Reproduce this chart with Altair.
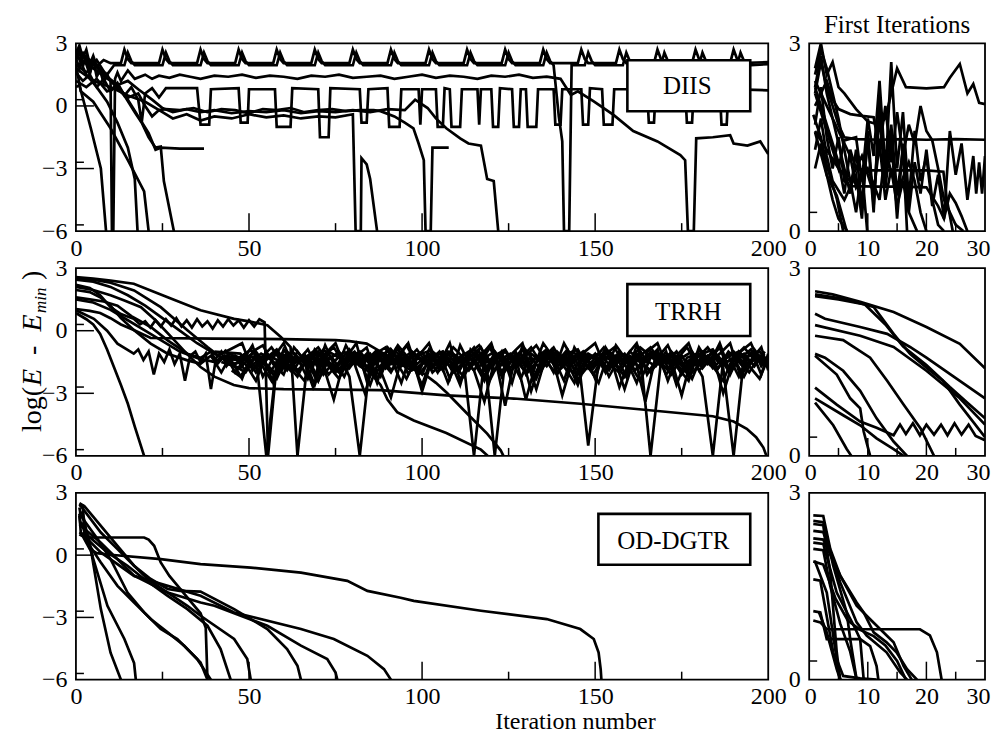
import altair as alt
import pandas as pd

FONT = "Liberation Serif"

# ---------------- axis values ----------------
LEFT_X_LABELS = [0, 50, 100, 150, 200]
LEFT_Y_LABELS = [3, 0, -3, -6]
RIGHT_X_LABELS = [0, 10, 20, 30]
RIGHT_Y_LABELS = [0, 3]
LEFT_X_MAJOR = [50, 100, 150]
LEFT_X_MINOR = [25, 75, 125, 175]
LEFT_Y_MAJOR = [0, -3]
LEFT_Y_MINOR = [0.3, -2.7, -5.7]
RIGHT_X_MAJOR = [10, 20]
RIGHT_X_MINOR = [5, 15, 25]
RIGHT_Y_MINOR = [0.3]

PANEL_LABELS = ["DIIS", "TRRH", "OD-DGTR"]
RIGHT_TITLE = "First Iterations"
X_TITLE = "Iteration number"
Y_TITLE_PARTS = ["log(", "E\u2002-\u2002E", "min", ")"]

# ---------------- DIIS, full run ----------------
DIIS_1 = [(0,2.5),(1,2.9),(2,2.3),(3,2.7),(4,2.0),(5,2.4),(6,1.9),(8,2.2),(10,2.05),
          (13,2.05),(14,2.7),(15,2.25),(16,2.05),(24,2.05),(25,2.7),(26,2.25),(27,2.05),
          (35,2.05),(36,2.7),(37,2.25),(38,2.05),(46,2.05),(47,2.7),(48,2.25),(49,2.05),
          (57,2.05),(58,2.7),(59,2.25),(60,2.05),(68,2.05),(69,2.7),(70,2.25),(71,2.05),
          (79,2.05),(80,2.7),(81,2.25),(82,2.05),(90,2.05),(91,2.7),(92,2.25),(93,2.05),
          (101,2.05),(102,2.7),(103,2.25),(104,2.05),(112,2.05),(113,2.7),(114,2.25),(115,2.05),
          (123,2.05),(124,2.7),(125,2.25),(126,2.05),(134,2.05),(135,2.7),(136,2.25),(137,2.05),
          (145,2.05),(146,2.7),(147,2.25),(148,2.05),(156,2.05),(157,2.7),(158,2.25),(159,2.05),
          (167,2.05),(168,2.7),(169,2.25),(170,2.05),(178,2.05),(179,2.7),(180,2.25),(181,2.05),
          (189,2.05),(190,2.7),(191,2.25),(192,2.05),(200,2.1)]
DIIS_2 = [(0,2.2),(1,2.6),(2,1.9),(3,2.4),(4,1.6),(5,2.1),(7,1.8),(9,1.5),(11,1.95),
          (14,1.95),(15,2.55),(16,2.15),(17,1.95),(25,1.95),(26,2.55),(27,2.15),(28,1.95),
          (36,1.95),(37,2.55),(38,2.15),(39,1.95),(47,1.95),(48,2.55),(49,2.15),(50,1.95),
          (58,1.95),(59,2.55),(60,2.15),(61,1.95),(69,1.95),(70,2.55),(71,2.15),(72,1.95),
          (80,1.95),(81,2.55),(82,2.15),(83,1.95),(91,1.95),(92,2.55),(93,2.15),(94,1.95),
          (102,1.95),(103,2.55),(104,2.15),(105,1.95),(113,1.95),(114,2.55),(115,2.15),(116,1.95),
          (124,1.95),(125,2.55),(126,2.15),(127,1.95),(135,1.95),(136,2.55),(137,2.15),(138,1.95),
          (139.5,-0.5),(140.5,-1.7),(141,-6),(142.5,-6),(143.2,1.95),
          (147,1.95),(148,2.55),(149,2.15),(150,1.95),(158,1.95),(159,2.55),(160,2.15),(161,1.95),
          (169,1.95),(170,2.55),(171,2.15),(172,1.95),(180,1.95),(181,2.55),(182,2.15),(183,1.95),
          (191,1.95),(192,2.55),(193,2.15),(194,1.95),(200,2.0)]
DIIS_3 = [(0,2.3),(1,1.8),(2,2.6),(3,2.0),(4,1.5),(5,2.2),(6,1.4),(7,1.7),(8,1.1),(9,1.5),(10,1.2),
          (10.4,-6),(10.8,-6),(11.3,1.3),(12,1.6),(13,1.2),(15,1.7),(17,1.3),(20,1.5),(22,1.3),
          (24,1.45),(27,1.35),(30,1.5),(33,1.4),(36,1.3),(40,1.45),(44,1.4),(48,1.5),(52,1.35),
          (56,1.45),(60,1.4),(64,1.3),(68,1.45),(72,1.4),(76,1.5),(80,1.35),(84,1.4),(88,1.45),
          (92,1.3),(96,1.4),(100,1.5),(104,1.35),(108,1.45),(112,1.4),(116,1.3),(120,1.45),
          (124,1.4),(128,1.5),(132,1.35),(136,1.4),(140,1.3),(143,0.53),(145,0.7),(149.6,0.22),
          (155.3,-0.43),(161,-1.2),(168,-1.7),(174.6,-2.35),(176,-2.6),(176.8,-6),(178.5,-6),
          (179.2,-1.55),(184,-1.5),(189,-1.4),(190,-1.8),(194,-1.9),(197.7,-1.7),(200,-2.3)]
DIIS_4 = [(0,1.6),(2,1.2),(4,1.5),(6,0.9),(8,1.3),(10,0.7),(12,1.1),(14,0.5),(16,0.9),(18,0.3),
          (19,-0.8),(20,0.6),(22,0.85),(24,0.4),(26,0.85),(35,0.85),(36,-0.9),(38.5,-0.9),(39,0.8),
          (47,0.85),(47.6,-0.8),(49.6,-0.8),(50,0.8),(57.5,0.8),(58,-1.0),(62,-1.0),(62.5,0.85),
          (70,0.8),(70.5,-1.5),(73,-1.5),(73.5,0.85),(82,0.8),(82.5,-0.8),(84,-0.8),(84.5,0.8),
          (90,0.85),(90.5,-1.0),(93.5,-1.0),(94,0.8),(99,0.8),(99.5,-0.9),(100,0.8),(104,0.8),
          (104.5,-1.0),(106,-1.0),(106.5,0.85),(108,0.8),(108.5,-1.0),(111,-1.0),(111.5,0.8),
          (116,0.8),(116.5,-0.9),(117,0.8),(120,0.8),(120.5,-1.0),(122,-1.0),(122.5,0.85),
          (126,0.8),(126.5,-1.0),(128,-1.0),(128.5,0.8),(130,0.8),(130.5,-1.0),(133,-1.0),
          (133.5,0.8),(138,0.8),(138.5,-0.9),(140,-0.9),(140.5,0.8),(146,0.8),(146.5,-0.9),
          (148,-0.9),(148.5,0.85),(152,0.8),(152.5,-0.9),(155,-0.9),(155.5,0.8),(165,0.8),
          (165.5,-0.8),(167,-0.8),(167.5,0.8),(176,0.8),(176.5,-0.8),(178,-0.8),(178.5,0.8),
          (186,0.8),(186.5,-0.9),(188,-0.9),(188.5,0.8),(200,0.75)]
DIIS_5 = [(0,1.2),(3,0.9),(6,1.3),(9,0.7),(12,0.9),(15,0.4),(18,0.6),(20,0.0),(22,-0.5),(24,-0.2),
          (26,-0.15),(30,-0.2),(34,-0.1),(38,-0.3),(42,-0.15),(46,-0.2),(50,-0.35),(54,-0.15),
          (58,-0.2),(62,-0.1),(66,-0.3),(70,-0.2),(74,-0.15),(78,-0.25),(82,-0.2),(86,-0.2),
          (88,-0.25),(92,-0.5),(95,-0.8),(97.5,-1.07),(99,-1.8),(100.5,-2.6),(101,-6),(102.5,-6),
          (103,-2.0),(107.7,-2.0)]
DIIS_6 = [(0,2.0),(3,1.6),(6,2.2),(9,1.4),(12,1.0),(15,1.2),(18,0.8),(22,0.3),(25,-0.1),(28,-0.3),
          (32,-0.15),(36,-0.3),(40,-0.2),(45,-0.35),(50,-0.25),(55,-0.3),(60,-0.2),(65,-0.35),
          (70,-0.25),(75,-0.3),(80,-0.2),(85,-0.3),(90,-0.15),(95,-0.2),(98,0.3),(101.6,-0.1),
          (104,-0.6),(107,-1.07),(111,-1.55),(113.4,-1.8),(117,-1.9),(118.8,-3.5),(120.7,-3.6),(122,-6)]
DIIS_7 = [(0,0.9),(1,1.0),(4.3,-1.07),(7.2,-3.0),(8.7,-6)]
DIIS_8 = [(0,2.0),(1.4,0.7),(5,0.2),(10,-1.07),(15,-2.6),(19.7,-4.1),(21,-6)]
DIIS_9 = [(0,2.6),(3,1.5),(6,0.9),(9,0.2),(12,-0.8),(15,-2.0),(17,-3.5),(17.8,-6)]
DIIS_10 = [(0,2.4),(5,1.8),(10,1.2),(14,0.5),(17,-0.3),(19,-0.8),(21,-1.5),(23,-2.0),(24.5,-1.95),
           (25.4,-3.6),(28.3,-6)]
DIIS_11 = [(0,2.7),(4,2.2),(8,1.5),(12,1.0),(15,0.3),(18,-0.5),(21,-1.3),(23,-2.1),(24.5,-2.0),
           (30,-2.05),(37,-2.05)]
DIIS_12 = [(0,1.8),(5,1.2),(10,0.9),(15,0.5),(20,0.2),(25,-0.3),(28,-0.6),(32,-0.4),(36,-0.7),
           (40,-0.5),(45,-0.6),(50,-0.4),(55,-0.55),(60,-0.45),(65,-0.6),(70,-0.5),(75,-0.55),
           (80,-0.4),(80.8,-6),(82.3,-6),(82.5,-2.5),(84,-2.8),(85,-3.5),(87,-6)]

# ---------------- DIIS, first iterations ----------------
DIIS_F1 = [(1,2.6),(2,3.0),(3,2.5),(4,2.7),(5,2.3),(6,2.2),(8,1.95),(10,1.75),(12,1.7),(13,1.8),
           (15,2.6),(16.5,2.3),(20,2.28),(23,2.3),(24,2.45),(25.7,2.67),(27,2.2),(28,2.35),(29,2.05),(30,2.03)]
DIIS_F2 = [(1,2.2),(2,2.7),(3,2.3),(4,2.0),(5,1.7),(6,1.5),(8,1.47),(12,1.46),(16,1.47),(20,1.46),
           (25,1.47),(30,1.46)]
DIIS_F3 = [(1,2.0),(2,2.2),(3,2.4),(4,2.1),(5,1.95),(7,1.87),(9,1.84),(11,1.82),(12,1.3),(13,2.0),
           (14,1.1),(15,1.9),(16,1.2),(17,1.7),(18,1.4),(19,2.0),(20,1.6),(21,1.45),(22,1.0),(23,0.5),
           (24,0.3),(25,0.1),(26.3,0.0)]
DIIS_F4 = [(1,1.0),(2,1.4),(3,0.9),(4,0.5),(5,0.2),(6.5,0.0)]
DIIS_F5 = [(0.7,1.86),(2,1.5),(3,1.05),(4.7,0.52),(5.8,0.0)]
DIIS_F6 = [(1,1.58),(3,0.89),(4.7,0.57),(6.4,0.0)]
DIIS_F7 = [(1,2.3),(2,2.0),(3,1.7),(4,1.4),(5,1.1),(6,0.6),(7,1.3),(8,0.99),(10,0.97),(15,0.97),
           (20,0.97),(22.9,0.95),(23.5,0.5),(24.5,0.0)]
DIIS_F8 = [(1,1.7),(2,2.3),(3,1.5),(4,1.0),(5,1.5),(6,0.8),(7,0.72),(12,0.71),(16,0.71),(20,0.7),
           (22,0.4),(23,0.2),(24,0.6),(25,0.45),(26,0.24),(27,0.0)]
DIIS_F9 = [(1,2.3),(2,2.8),(3,2.2),(4,1.8),(5,1.4),(6,1.0),(7,0.6),(8,1.3),(9,0.4),(10,1.5),(11,0.3),
           (12,2.1),(13,0.9),(14,2.7),(15,1.0),(16,1.9),(17,0.5),(18,1.6),(19,0.8),(20,1.2),(21,0.4),
           (22,0.9),(23,0.2),(24,1.6),(25,0.9),(26,1.4),(27,0.5),(28,1.2),(28.5,0.6),(29,1.1),(29.5,0.6),(30,1.2)]
DIIS_F10 = [(1,2.5),(2,2.9),(3,2.6),(4,2.2),(5,1.8),(6,1.3),(7,0.8),(8,0.3),(9,1.0),(9.9,0.0)]
DIIS_F11 = [(1,1.3),(2,1.8),(3,1.2),(4,0.8),(6,0.5),(8,0.9),(9,0.2),(10,1.6),(11,0.4),(12,1.9),(13,0.7),
            (14,1.5),(15,0.2),(16,1.4),(17,0.3),(18,1.1),(19,0.6),(20,1.3),(21,0.5),(22,0.1),(23,0.0)]
DIIS_F12 = [(1,2.2),(2,1.9),(3,1.6),(4,1.3),(5,1.0),(6,1.45),(8,1.5),(9,0.8),(10,1.8),(11,1.2),(12,2.4),
            (13,1.0),(14,1.7),(15,0.6),(16,1.3),(16.7,0.0)]
DIIS_F13 = [(1,1.6),(3,1.3),(5,1.0),(7,0.8),(9,1.2),(11,0.6),(12,1.4),(13,0.5),(14,1.0),(15,0.4),(16,0.8),
            (17,0.3),(18.4,0.0)]
DIIS_F14 = [(1,2.4),(3,2.0),(5,1.6),(7,1.2),(8,0.7),(10,1.0),(12,0.5),(13,1.3),(15,0.6),(17,1.1),(18,0.8),
            (19,0.3),(20,0.0)]

# ---------------- TRRH, full run ----------------
TRRH_BAND_X = [46,49,52,55,58,61,64,67,70,73,76,79,82,85,88,91,94,97,100,103,106,109,112,115,118,121,
               124,127,130,133,136,139,142,145,148,151,154,157,160,163,166,169,172,175,178,181,184,187,
               190,193,196,199]
TRRH_BAND_X2 = [47.5,50.5,53.5,56.5,59.5,62.5,65.5,68.5,71.5,74.5,77.5,80.5,83.5,86.5,89.5,92.5,95.5,
                98.5,101.5,104.5,107.5,110.5,113.5,116.5,119.5,122.5,125.5,128.5,131.5,134.5,137.5,
                140.5,143.5,146.5,149.5,152.5,155.5,158.5,161.5,164.5,167.5,170.5,173.5,176.5,179.5,
                182.5,185.5,188.5,191.5,194.5,197.5,200]
TRRH_BAND_X3 = [48,51,54,57,60,63,66,69,72,75,78,81,84,87,90,93,96,99,102,105,108,111,114,117,120,123,
                126,129,132,135,138,141,144,147,150,153,156,159,162,165,168,171,174,177,180,183,186,189,
                192,195,198,200]
BAND_A = [-1.4,-1.1,-1.8,-1.3,-0.9,-1.6,-2.2,-1.2,-0.8,-1.5,
          -1.9,-1.0,-1.4,-2.6,-1.2,-0.9,-1.7,-1.3,-1.0,-2.0,
          -1.5,-0.8,-1.3,-1.9,-3.4,-1.4,-1.0,-1.6,-1.2,-0.7,
          -1.5,-2.1,-1.1,-0.9,-1.8,-1.3,-1.0,-2.7,-1.4,-0.8,
          -1.2,-1.7,-1.0,-1.5,-2.3,-1.1,-0.9,-1.6,-1.3,-0.8,
          -1.4,-1.2]
BAND_B = [-1.7,-2.0,-1.2,-6.0,-1.5,-1.1,-1.9,-1.4,-2.4,-1.0,
          -1.3,-1.8,-1.1,-1.6,-2.2,-0.9,-1.5,-1.2,-2.9,-1.3,
          -1.0,-1.7,-1.4,-0.8,-1.9,-1.2,-3.6,-1.1,-1.6,-1.3,
          -0.9,-2.0,-1.5,-1.1,-1.7,-2.5,-1.0,-1.4,-1.9,-1.2,
          -0.8,-1.5,-2.1,-1.3,-1.0,-1.8,-1.2,-3.0,-1.4,-1.1,
          -1.7,-1.0]
BAND_C = [-2.0,-1.3,-1.0,-1.7,-2.3,-1.2,-1.5,-0.9,-1.8,-1.3,
          -1.1,-2.2,-6.0,-1.4,-1.0,-1.9,-1.3,-1.6,-2.1,-1.0,
          -1.4,-1.8,-1.1,-1.5,-2.4,-1.2,-0.9,-1.7,-1.3,-2.8,
          -1.1,-1.5,-0.9,-1.9,-1.4,-1.1,-2.2,-1.3,-1.6,-1.0,
          -6.0,-1.5,-1.2,-1.9,-1.4,-1.0,-1.7,-2.4,-1.2,-1.5,
          -0.9,-1.6]
BAND_D = [-1.2,-1.6,-2.4,-1.1,-1.4,-1.9,-1.0,-1.7,-1.3,-2.1,
          -1.5,-0.9,-1.6,-1.2,-1.9,-3.2,-1.4,-1.0,-1.5,-1.8,
          -1.2,-2.0,-1.5,-6.0,-1.3,-1.0,-1.8,-1.2,-1.6,-2.3,
          -1.0,-1.4,-1.9,-1.1,-5.5,-1.5,-1.2,-1.8,-1.0,-1.4,
          -2.0,-1.3,-1.1,-1.7,-1.3,-2.2,-6.0,-1.4,-1.1,-1.8,
          -1.3,-1.5]
BAND_E = [-1.6,-1.2,-2.0,-1.4,-1.1,-1.7,
          -2.3,-1.3,-1.0,-1.6,-1.4,-2.0,-1.1,-1.5,-2.6,-1.2,
          -1.0,-1.7,-1.3,-1.9,-1.1,-6.0,-1.4,-1.0,-2.1,-1.5,
          -1.2,-1.8,-1.0,-2.4,-1.3,-1.1,-1.6,-2.0,-1.2,-1.5,
          -1.9,-1.1,-1.4,-3.1,-1.2,-1.6,-1.0,-1.8,-6.0,-1.3,
          -1.1,-1.7]
BAND_F = [-6.0,-1.3,-1.0,-1.6,
          -2.0,-1.2,-1.5,-1.1,-1.8,-1.3,-2.5,-1.0,-1.4,-1.7,
          -1.1,-1.6,-2.2,-1.3,-1.0,-1.9,-1.4,-1.2,-3.3,-1.5,
          -1.0,-1.7,-1.3,-2.1,-1.1,-1.4,-1.8,-1.0,-1.6,-2.4,
          -1.3,-1.1,-1.7,-1.2,-2.0,-1.5,-1.0,-1.6,-1.3,-2.2,
          -1.2,-1.4]
BAND_G = [-1.6,-1.2,
          -1.9,-1.1,-1.5,-1.3,-2.2,-1.0,-1.6,-1.4,-2.0,-1.2,
          -1.7,-1.0,-1.5,-2.6,-1.2,-1.4,-1.9,-1.1,-1.3,-1.8,
          -1.0,-1.6,-1.2,-2.1,-1.4,-1.1,-1.8,-1.3,-1.0,-1.7,
          -1.4,-1.1]
BAND_H = [-1.1,-1.7,-1.3,-0.8,-1.5,-2.0,-1.2,-1.6,-0.9,-1.4,
          -2.2,-1.1,-1.5,-1.0,-1.8,-1.3,-0.7,-1.6,-1.2,-2.0,
          -1.0,-1.4,-1.9,-1.2,-0.8,-1.7,-1.3,-2.3,-1.1,-1.5,
          -0.9,-1.6,-1.2,-2.0,-1.4,-0.8,-1.5,-1.1,-1.9,-1.3,
          -1.0,-2.1,-1.4,-0.8,-1.6,-1.2,-1.8,-1.0,-1.5,-2.0,
          -1.2,-1.4]
BAND_I = [-1.8,-1.2,-1.6,-2.4,-1.3,-1.0,-1.7,-1.2,-2.1,-1.5,
          -1.0,-1.6,-3.0,-1.3,-1.1,-1.8,-1.4,-0.9,-1.6,-1.2,
          -2.5,-1.3,-1.0,-1.7,-1.4,-1.1,-2.0,-1.3,-0.8,-1.6,
          -1.2,-3.1,-1.4,-1.0,-1.8,-1.2,-1.5,-2.2,-1.1,-1.4,
          -1.7,-1.0,-2.6,-1.3,-1.1,-1.6,-1.2,-1.9,-1.0,-1.5,
          -1.3,-1.6]
BAND_J = [-1.3,-0.9,-1.5,-1.9,-1.1,-1.6,-1.3,-2.7,-1.2,-0.8,
          -1.6,-1.3,-1.9,-1.1,-0.8,-1.5,-2.3,-1.2,-1.0,-1.7,
          -1.3,-2.0,-1.1,-0.7,-1.5,-1.2,-1.8,-1.0,-2.9,-1.3,
          -1.1,-1.7,-1.0,-1.4,-2.1,-1.2,-0.8,-1.6,-1.3,-3.4,
          -1.2,-1.5,-1.0,-1.9,-1.3,-0.8,-1.5,-1.2,-2.2,-1.1,
          -1.0,-1.5]
BAND_K = [-2.2,-1.5,-1.1,-1.4,-1.9,-1.0,-1.5,-1.2,-1.7,-3.3,
          -1.4,-1.0,-1.7,-2.1,-1.3,-1.0,-1.5,-1.9,-1.2,-1.6,
          -1.1,-1.8,-1.3,-1.0,-2.4,-1.4,-1.1,-1.6,-1.3,-1.9,
          -1.0,-1.4,-2.0,-1.2,-1.7,-1.0,-1.3,-2.8,-1.2,-1.5,
          -1.0,-1.6,-1.3,-2.0,-1.1,-1.4,-1.8,-1.2,-1.0,-1.7,
          -2.3,-1.3]
BAND_L = [-0.6,-1.9,-1.2,-2.5,-0.9,-1.6,-1.1,-2.2,-0.7,-1.8,
          -1.3,-0.6,-2.4,-1.0,-1.7,-0.8,-2.1,-1.2,-0.6,-1.9,
          -1.4,-2.6,-0.9,-1.5,-0.7,-2.0,-1.1,-0.6,-2.3,-1.3,
          -0.8,-1.7,-2.5,-1.0,-0.6,-1.8,-1.2,-2.2,-0.7,-1.5,
          -0.9,-2.4,-1.1,-0.6,-1.9,-1.4,-0.8,-2.1,-1.0,-0.6,
          -1.7,-1.3]
BAND_M = [-2.3,-1.0,-0.7,-1.6,-2.1,-0.8,-1.4,-2.6,-1.1,-0.6,
          -1.9,-1.2,-0.8,-2.3,-1.5,-0.7,-1.3,-2.0,-0.9,-1.6,
          -0.6,-2.4,-1.2,-0.8,-1.8,-1.0,-2.5,-0.7,-1.4,-1.1,
          -2.0,-0.6,-1.5,-1.0,-2.3,-0.8,-1.6,-1.2,-0.6,-2.1,
          -1.3,-0.7,-1.8,-2.4,-0.9,-1.5,-1.1,-0.6,-2.2,-1.4,
          -0.8,-1.9]
BAND_N = [-1.5,-0.7,-2.2,-1.3,-0.6,-1.8,-2.4,-0.9,-1.4,-2.0,
          -0.7,-1.6,-1.1,-2.5,-0.8,-1.3,-0.6,-2.1,-1.5,-1.0,
          -2.3,-0.7,-1.7,-1.2,-0.6,-2.2,-1.4,-0.9,-1.9,-0.6,
          -1.3,-2.4,-0.8,-1.6,-1.1,-2.0,-0.7,-1.4,-2.5,-1.0,
          -0.6,-1.8,-1.2,-2.2,-0.8,-1.6,-0.6,-2.0,-1.3,-0.9,
          -2.1,-1.1]
NOISE_T3 = [-1.6,-1.2,-2.0,-1.4,-1.0,-1.8,-1.3,-2.3,-1.1,-1.5,-1.9,-1.2,-1.7,-2.0]
NOISE_T4 = [-1.3,-1.9,-1.1,-1.6,-2.1,-1.0,-1.5,-1.2,-2.4,-1.4,-1.0,-1.7,-1.3,-1.9,-1.1,-1.6,-1.4,-1.8]

TRRH_1 = [(0,0.85),(3,0.55),(5,0.3),(7,-0.15),(9,-0.9),(11,-1.75),(13,-2.6),(15,-3.5),(17,-4.6),(19.7,-6)]
TRRH_LONG = [(0,2.1),(5,1.95),(10,1.7),(14,1.45),(18.8,1.13),(23,0.5),(28.4,-0.45),(32,-1.1),(36,-1.74),
             (40,-2.2),(45.6,-2.6),(50,-2.75),(60,-2.8),(75,-2.82),(88,-2.85),(107,-3.1),(126.5,-3.25),
             (145.7,-3.5),(165,-3.8),(184,-4.1),(190,-4.35),(193.8,-4.7),(196.5,-5.1),(198.6,-5.6),(199.5,-6)]
TRRH_2_HEAD = [(0,1.04),(4,0.95),(7,0.85),(10,0.6),(13,0.3),(16.7,0.03),(21.6,-0.35),(40,-0.38),(60,-0.4),
               (75,-0.45),(79,-0.5),(84,-0.62),(88,-1.0),(93.8,-1.6),(97,-1.9)]
TRRH_3_HEAD = [(0,2.45),(5,2.35),(10,2.1),(15,1.7),(20,1.2),(25,0.6),(30,0.0),(35,-0.6),(40,-1.1),(43,-1.4)]
TRRH_3_TAIL = [(88,-2.6),(90,-3.3),(92.8,-3.9),(97.6,-4.3),(107,-4.9),(117,-5.7),(119,-6)]
TRRH_4_HEAD = [(0,1.5),(5,1.35),(10,1.0),(15,0.5),(20,0.0),(25,-0.5),(30,-1.0),(35,-1.3),(40,-1.5),(43,-1.2)]
TRRH_4_TAIL = [(100.5,-2.06),(104,-2.5),(107.3,-3.0),(113,-3.97),(118.8,-4.93),(122.7,-5.73),(123.5,-6)]
TRRH_5_HEAD = [(0,2.57),(5,2.5),(10,2.4),(16.7,2.25),(26.5,1.6),(36,0.98),(45.7,0.57),(50,0.45),(55.3,0.26),
               (59.2,-0.3),(62,-0.78)]
TRRH_6_HEAD = [(0,2.5),(5,2.45),(10,2.3),(16.8,1.93),(24.5,1.13),(32.2,0.02),(38,-0.78),(42,-1.3)]
TRRH_7_HEAD = [(0,1.6),(4,1.5),(8,1.4),(12,1.2),(16,0.7),(21.6,0.18),(26.5,-0.46),(32.2,-1.1),(36,-1.3),
               (39,-1.0),(40.9,-1.58),(43,-1.2)]
TRRH_8_HEAD = [(0,1.95),(4,1.85),(7,1.6),(10,1.2),(13,0.6),(16.8,0.02),(21.6,-0.62),(26.5,-1.1),(32.2,-1.42),
               (36,-1.58),(39,-1.2),(42,-2.0),(44,-1.4)]
TRRH_9_HEAD = [(0,2.2),(4,2.05),(7,1.7),(10,1.13),(13,0.8),(16.7,0.57),(18.5,0.3),(20,0.45),(21.5,0.15),
               (23,0.5),(24.5,0.2),(26,0.55),(27.5,0.25),(29,0.6),(30.5,0.2),(32,0.5),(33.5,0.15),(35,0.55),
               (36.5,0.2),(38,0.45),(39.5,0.1),(41,0.5),(42.5,0.2),(44,0.55),(45.5,0.25),(47,0.5),(48.5,0.15),
               (50,0.5),(51.5,0.2),(53,0.55),(54.5,0.4),(55.5,-6)]
TRRH_10_HEAD = [(0,0.98),(5.2,0.57),(9,0.0),(12,-0.62),(16.7,-1.1),(18,-0.9),(19.5,-1.4),(21,-1.0),
                (22.5,-2.1),(24,-1.1),(25.5,-1.5),(27,-0.9),(28.5,-1.6),(30,-1.1),(31.5,-2.4),(33,-1.2),
                (34.5,-1.0),(36,-1.5),(37.5,-1.1),(39,-2.8),(40.5,-1.3),(42,-1.0),(43.5,-1.7)]
TRRH_11_HEAD = [(40,-1.0)]
TRRH_12_HEAD = [(42,-1.5)]
TRRH_13_HEAD = [(44,-1.1)]
TRRH_14_HEAD = [(45,-1.9)]
TRRH_15_HEAD = [(41,-1.2)]
TRRH_16_HEAD = [(43,-0.9)]
TRRH_17_HEAD = [(45,-1.6)]

# ---------------- TRRH, first iterations ----------------
TRRH_F1 = [(1,2.63),(4,2.58),(8.7,2.46),(14.4,2.3),(20,2.06),(25.7,1.79),(30,1.4)]
TRRH_F2 = [(1,2.58),(5,2.52),(8.7,2.44),(11,2.38),(14.4,1.95),(17.2,1.63),(20,1.41),(22.8,1.2),(25.7,0.82),(30,0.3)]
TRRH_F3 = [(1,2.55),(5,2.5),(9.5,2.42),(13,2.1),(16,1.75),(20,1.45),(24,1.1),(27,0.85),(30,0.6)]
TRRH_F4 = [(1,2.27),(2.7,2.19),(8.7,2.06),(13.3,1.95),(17.2,1.74),(20,1.57),(25.7,1.2),(30,0.92)]
TRRH_F5 = [(1,2.09),(8.7,1.92),(14.4,1.74),(20,1.36),(25.7,0.92),(30,0.5)]
TRRH_F6 = [(1,1.92),(5.8,1.85),(10.4,1.57),(13.3,1.2),(16.1,0.82),(19,0.44),(21.3,0.0)]
TRRH_F7 = [(1,1.63),(2.7,1.57),(5.8,1.36),(8.7,1.04),(11.5,0.6),(14.4,0.23),(16.7,0.0)]
TRRH_F8 = [(1,1.6),(4.7,1.3),(7,0.92),(8.7,0.76),(9.3,0.39),(10.4,0.0)]
TRRH_F9 = [(1,1.09),(4.7,0.82),(8.7,0.55),(11.5,0.45),(14.4,0.33),(15.5,0.5),(16.5,0.35),(17.7,0.52),
           (18.9,0.33),(20,0.5),(21.3,0.34),(22.5,0.5),(23.6,0.33),(24.8,0.52),(26,0.34),(27.2,0.5),
           (28.4,0.32),(30,0.25)]
TRRH_F10 = [(1,0.92),(5.8,0.65),(8.7,0.49),(11.5,0.28),(14.4,0.11),(16.1,0.0)]
TRRH_F11 = [(1,0.85),(4.1,0.49),(6.4,0.11),(7.2,0.0)]

# ---------------- OD-DGTR, full run ----------------
OD_1 = [(1,1.0),(2,0.9),(4,0.3),(6,0.1),(10,0.02),(24.5,-0.19),(36,-0.43),(50.5,-0.6),(65,-0.84),
        (78.4,-1.24),(84.2,-1.72),(93.8,-2.05),(97.6,-2.2),(117,-2.68),(136,-3.08),(145.7,-3.56),
        (149.6,-4.04),(151,-4.69),(151.6,-5.5),(151.8,-6)]
OD_2 = [(1,1.1),(2,1.0),(3,0.85),(19.7,0.85),(21,0.75),(22.6,0.45),(24.5,-0.35),(27,-1.0),(30,-1.6),
        (33,-2.2),(36,-2.8),(37.5,-3.5),(38,-6)]
OD_3 = [(1,2.1),(2,2.0),(3,1.2),(4,0.6),(7.2,-2.6),(10,-4.7),(13,-6)]
OD_4 = [(1,1.6),(2,1.5),(3.4,0.7),(9.1,-2.44),(14,-4.04),(16.8,-5.2),(17.3,-6)]
OD_5 = [(1,1.5),(2,1.4),(3.4,0.6),(7.2,-0.35),(12,-1.48),(16.8,-2.28),(21.6,-3.08),(26.5,-3.72),
        (31.3,-4.36),(36,-5.17),(38,-6)]
OD_6 = [(1,2.3),(1.4,1.9),(6.3,0.77),(10,-0.19),(14.9,-1.8),(19.7,-2.76),(24.5,-3.56),(29.3,-4.04),
        (35,-5.0),(39,-6)]
OD_7 = [(1,2.5),(2,2.4),(2.4,1.09),(9.1,0.13),(14.9,-0.51),(19.7,-1.15),(26.5,-1.96),(32.2,-2.6),
        (38,-3.4),(41.8,-4.52),(44.7,-6)]
OD_8 = [(1,2.45),(1.4,2.37),(7.2,1.09),(12,0.29),(16.8,-0.51),(20.7,-1.15),(26.5,-1.8),(32.2,-2.44),
        (36,-2.92),(45.7,-4.04),(49.5,-5.0),(50.5,-6)]
OD_9 = [(1,2.4),(2.4,2.37),(7.2,1.41),(12,0.45),(16.8,-0.51),(21.6,-1.15),(26.5,-1.63),(30,-1.72),
        (36,-1.76),(45.7,-2.6),(55.3,-3.56),(61,-4.52),(64,-5.33),(65,-6)]
OD_10 = [(1,1.9),(1.4,1.41),(7.2,0.6),(16.8,-0.99),(26.5,-1.8),(36,-2.28),(40,-2.44),(55.3,-3.4),
         (65,-4.36),(72.6,-5.0),(75,-5.65),(75.5,-6)]
OD_11 = [(1,2.0),(1.4,1.09),(7.2,0.13),(16.8,-1.0),(26.5,-1.48),(36,-1.96),(45.7,-2.76),(65,-3.56),
         (74.5,-4.04),(84.2,-4.85),(89,-5.49),(91,-6)]

# ---------------- OD-DGTR, first iterations ----------------
OD_F1 = [(0.7,2.64),(2.4,2.63),(3.6,2.1),(5.3,1.67),(8.1,1.24),(9.3,1.08),(11,0.76),(13.2,0.6),(14.9,0.44),
         (16.7,0.17),(18.4,0.0)]
OD_F2 = [(0.7,0.95),(1.9,0.92),(3.0,0.81),(18.9,0.81),(20.6,0.71),(21.8,0.44),(22.6,0.0)]
OD_F3 = [(0.7,1.1),(1.9,1.08),(3.0,0.65),(8.7,0.65),(10.4,0.54),(11.5,0.22),(11.8,0.0)]
OD_F4 = [(0.7,1.61),(1.9,1.59),(4.1,0.44),(5.3,0.0)]
OD_F5 = [(0.95,1.91),(3.0,1.4),(4.7,0.33),(5.8,0.06),(8.7,0.02),(11.5,0.0)]
OD_F6 = [(0.7,2.55),(2.4,2.53),(4.1,1.83),(6.4,1.08),(7,0.65),(8.1,0.0)]
OD_F7 = [(0.7,2.39),(2.4,2.37),(5.3,1.56),(8.1,0.92),(9.8,0.71),(13.2,0.44),(15.5,0.12),(16.7,0.0)]
OD_F8 = [(0.7,2.2),(2.4,2.18),(4.7,1.4),(7.6,0.87),(8.7,0.65),(9.3,0.0)]
OD_F9 = [(0.7,2.27),(2.4,2.25),(5.3,1.67),(8.1,1.19),(10.4,0.97),(14.4,0.6),(16.1,0.22),(17.5,0.0)]
OD_F10 = [(0.7,2.5),(2.4,2.48),(3.6,1.72),(4.7,0.44),(5.3,0.0)]
OD_F11 = [(1.6,1.1),(3.0,0.76),(4.7,0.17),(5.3,0.0)]
OD_F12 = [(0.7,2.1),(2.4,2.08),(3.6,1.5),(5.3,0.9),(7,0.45),(8.1,0.0)]
OD_F13 = [(0.7,1.9),(2.4,1.85),(4.5,1.3),(6.6,0.95),(8.7,0.8),(11,0.7),(13,0.55),(15,0.3),(16.5,0.0)]


def band(xs, ys):
    return list(zip(xs, ys))


DIIS_MAIN = {"d1": DIIS_1, "d2": DIIS_2, "d3": DIIS_3, "d4": DIIS_4, "d5": DIIS_5, "d6": DIIS_6,
             "d7": DIIS_7, "d8": DIIS_8, "d9": DIIS_9, "d10": DIIS_10, "d11": DIIS_11, "d12": DIIS_12}
DIIS_FIRST = {"f1": DIIS_F1, "f2": DIIS_F2, "f3": DIIS_F3, "f4": DIIS_F4, "f5": DIIS_F5, "f6": DIIS_F6,
              "f7": DIIS_F7, "f8": DIIS_F8, "f9": DIIS_F9, "f10": DIIS_F10, "f11": DIIS_F11,
              "f12": DIIS_F12, "f13": DIIS_F13, "f14": DIIS_F14}
TRRH_MAIN = {
    "t1": TRRH_1,
    "tl": TRRH_LONG,
    "t2": TRRH_2_HEAD + band(TRRH_BAND_X[18:], BAND_G),
    "t3": TRRH_3_HEAD + band(TRRH_BAND_X[:14], NOISE_T3) + TRRH_3_TAIL,
    "t4": TRRH_4_HEAD + band(TRRH_BAND_X[:18], NOISE_T4) + TRRH_4_TAIL,
    "t5": TRRH_5_HEAD + band(TRRH_BAND_X[6:], BAND_F),
    "t6": TRRH_6_HEAD + band(TRRH_BAND_X, BAND_A),
    "t7": TRRH_7_HEAD + band(TRRH_BAND_X, BAND_B),
    "t8": TRRH_8_HEAD + band(TRRH_BAND_X, BAND_C),
    "t9": TRRH_9_HEAD + band(TRRH_BAND_X[4:], BAND_E),
    "t10": TRRH_10_HEAD + band(TRRH_BAND_X, BAND_D),
    "t11": TRRH_11_HEAD + band(TRRH_BAND_X2, BAND_H),
    "t12": TRRH_12_HEAD + band(TRRH_BAND_X2, BAND_I),
    "t13": TRRH_13_HEAD + band(TRRH_BAND_X2, BAND_J),
    "t14": TRRH_14_HEAD + band(TRRH_BAND_X2, BAND_K),
    "t15": TRRH_15_HEAD + band(TRRH_BAND_X3, BAND_L),
    "t16": TRRH_16_HEAD + band(TRRH_BAND_X3, BAND_M),
    "t17": TRRH_17_HEAD + band(TRRH_BAND_X3, BAND_N),
}
TRRH_FIRST = {"q1": TRRH_F1, "q2": TRRH_F2, "q3": TRRH_F3, "q4": TRRH_F4, "q5": TRRH_F5, "q6": TRRH_F6,
              "q7": TRRH_F7, "q8": TRRH_F8, "q9": TRRH_F9, "q10": TRRH_F10, "q11": TRRH_F11}
OD_MAIN = {"o1": OD_1, "o2": OD_2, "o3": OD_3, "o4": OD_4, "o5": OD_5, "o6": OD_6, "o7": OD_7,
           "o8": OD_8, "o9": OD_9, "o10": OD_10, "o11": OD_11}
OD_FIRST = {"p1": OD_F1, "p2": OD_F2, "p3": OD_F3, "p4": OD_F4, "p5": OD_F5, "p6": OD_F6, "p7": OD_F7,
            "p8": OD_F8, "p9": OD_F9, "p10": OD_F10, "p11": OD_F11, "p12": OD_F12, "p13": OD_F13}


def series_frame(series):
    rows = []
    for name, pts in series.items():
        for i, (x, y) in enumerate(pts):
            rows.append({"series": name, "order": i, "x": x, "y": y})
    return pd.DataFrame(rows)


def text_layer(txt, x, y, size, **kw):
    return alt.Chart(pd.DataFrame({"t": [txt]})).mark_text(
        font=FONT, fontSize=size, color="black", **kw
    ).encode(x=alt.value(x), y=alt.value(y), text="t:N")


def panel(series, xdom, ydom, xlabels, ylabels, w, h, xmaj, xmin, ymaj, ymin, extra=(),
          right_tick=False, flush_x=False):
    xs = alt.Scale(domain=xdom, nice=False, zero=False)
    ys = alt.Scale(domain=ydom, nice=False, zero=False)
    if flush_x:
        ax = alt.Axis(values=xlabels, format="d", title=None, labelFlush=True, labelFlushOffset=5)
    else:
        ax = alt.Axis(values=xlabels, format="d", title=None)
    ay = alt.Axis(values=ylabels, format="d", title=None)

    def X():
        return alt.X("x:Q", scale=xs, axis=ax)

    def Y():
        return alt.Y("y:Q", scale=ys, axis=ay)

    layers = [
        alt.Chart(series_frame(series)).mark_line(color="black", strokeWidth=2.7, clip=True).encode(
            x=X(), y=Y(), detail="series:N", order="order:Q")
    ]
    tick = dict(color="black", strokeWidth=1.5)
    if xmaj:
        layers.append(alt.Chart(pd.DataFrame({"x": xmaj})).mark_rule(**tick).encode(
            x=X(), y=alt.value(h), y2=alt.value(h - 18)))
    if xmin:
        layers.append(alt.Chart(pd.DataFrame({"x": xmin})).mark_rule(**tick).encode(
            x=X(), y=alt.value(h), y2=alt.value(h - 8)))
    if ymaj:
        layers.append(alt.Chart(pd.DataFrame({"y": ymaj})).mark_rule(**tick).encode(
            y=Y(), x=alt.value(0), x2=alt.value(18)))
    if ymin:
        layers.append(alt.Chart(pd.DataFrame({"y": ymin})).mark_rule(**tick).encode(
            y=Y(), x=alt.value(0), x2=alt.value(8)))
        if right_tick:
            layers.append(alt.Chart(pd.DataFrame({"y": ymin})).mark_rule(**tick).encode(
                y=Y(), x=alt.value(w - 9), x2=alt.value(w)))
    layers.extend(extra)
    return alt.layer(*layers).properties(width=w, height=h)


def label_box(txt, x1, x2, y1, y2, tx, ty):
    box = alt.Chart(pd.DataFrame({"t": [txt]})).mark_rect(
        fill="white", stroke="black", strokeWidth=2.6
    ).encode(x=alt.value(x1), x2=alt.value(x2), y=alt.value(y1), y2=alt.value(y2))
    return [box, text_layer(txt, tx, ty, 25, align="center", baseline="middle")]


LW, RW = 693, 176
H1, H2, H3 = 188, 188, 187

ytitle = [
    text_layer(Y_TITLE_PARTS[0], -35, 164, 28, angle=270, align="left", baseline="alphabetic"),
    text_layer(Y_TITLE_PARTS[1], -35, 118, 28, angle=270, align="left", baseline="alphabetic", fontStyle="italic"),
    text_layer(Y_TITLE_PARTS[2], -30, 45, 17, angle=270, align="left", baseline="alphabetic", fontStyle="italic"),
    text_layer(Y_TITLE_PARTS[3], -35, 12, 28, angle=270, align="left", baseline="alphabetic"),
]

row1L = panel(DIIS_MAIN, [0, 200], [-6, 3], LEFT_X_LABELS, LEFT_Y_LABELS, LW, H1,
              LEFT_X_MAJOR, LEFT_X_MINOR, LEFT_Y_MAJOR, LEFT_Y_MINOR,
              extra=label_box(PANEL_LABELS[0], 552, 675, 17, 68, 612, 42.5))
row1R = panel(DIIS_FIRST, [0, 30], [0, 3], RIGHT_X_LABELS, RIGHT_Y_LABELS, RW, H1,
              RIGHT_X_MAJOR, RIGHT_X_MINOR, [], RIGHT_Y_MINOR, flush_x=True,
              extra=[text_layer(RIGHT_TITLE, 88, -18, 25, align="center", baseline="middle")])
row2L = panel(TRRH_MAIN, [0, 200], [-6, 3], LEFT_X_LABELS, LEFT_Y_LABELS, LW, H2,
              LEFT_X_MAJOR, LEFT_X_MINOR, LEFT_Y_MAJOR, LEFT_Y_MINOR,
              extra=label_box(PANEL_LABELS[1], 552, 675, 16, 68, 613, 43.5) + ytitle)
row2R = panel(TRRH_FIRST, [0, 30], [0, 3], RIGHT_X_LABELS, RIGHT_Y_LABELS, RW, H2,
              RIGHT_X_MAJOR, RIGHT_X_MINOR, [], RIGHT_Y_MINOR, flush_x=True)
row3L = panel(OD_MAIN, [0, 200], [-6, 3], LEFT_X_LABELS, LEFT_Y_LABELS, LW, H3,
              LEFT_X_MAJOR, LEFT_X_MINOR, LEFT_Y_MAJOR, LEFT_Y_MINOR,
              extra=label_box(PANEL_LABELS[2], 523, 675, 21, 72, 598, 48.5)
              + [text_layer(X_TITLE, 500, 236, 24, align="center", baseline="alphabetic")])
row3R = panel(OD_FIRST, [0, 30], [0, 3], RIGHT_X_LABELS, RIGHT_Y_LABELS, RW, H3,
              RIGHT_X_MAJOR, RIGHT_X_MINOR, [], RIGHT_Y_MINOR, right_tick=True, flush_x=True)

chart = alt.concat(
    row1L, row1R, row2L, row2R, row3L, row3R,
    columns=2, spacing={"row": 37, "column": 41}, align="each", bounds="flush",
).properties(
    padding={"left": 10, "top": 4, "right": 0, "bottom": 0}
).configure(
    font=FONT, background="white"
).configure_view(
    stroke="black", strokeWidth=1.8
).configure_axis(
    ticks=False, domain=False, grid=False, tickSize=0,
    labelFont=FONT, labelFontSize=24, labelColor="black",
    labelFlush=False, labelOverlap=False,
).configure_axisX(labelPadding=5).configure_axisY(labelPadding=9)

chart.save("out.html", embed_options={"renderer": "svg", "actions": False})
